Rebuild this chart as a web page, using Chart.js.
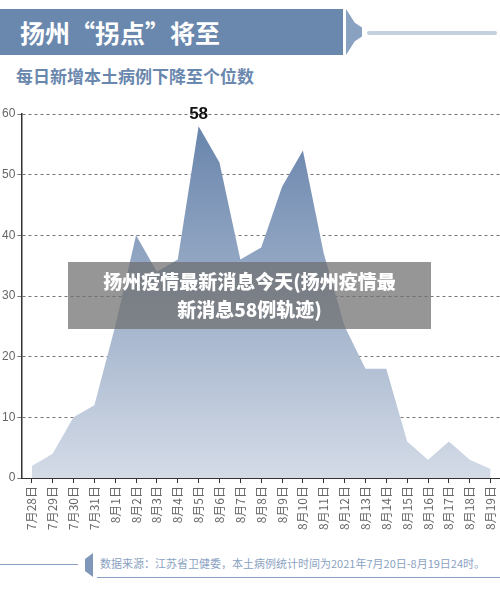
<!DOCTYPE html>
<html>
<head>
<meta charset="utf-8">
<script src="https://cdn.jsdelivr.net/npm/chart.js@4/dist/chart.umd.min.js"></script>
<style>
  body { margin: 0; width: 500px; height: 591px; background: #fff; position: relative; overflow: hidden; font-family: "Noto Sans CJK SC", sans-serif; }
  .abs { position: absolute; }
  #head { left: 0; top: 9px; width: 343px; height: 46px; background: #6a88ae; color: #fff; font-size: 25px; font-weight: bold; line-height: 46px; padding-left: 20px; box-sizing: border-box; }
  #arrow { left: 346px; top: 9px; width: 16px; height: 46px; background: #8aa2c2; clip-path: polygon(0 0, 55% 30%, 100% 40%, 100% 60%, 55% 70%, 0 100%); }
  #hline { left: 367px; top: 31px; width: 130px; height: 4px; background: #c5d0df; border-radius: 2px; }
  #sub { left: 16px; top: 63px; font-size: 17px; font-weight: bold; color: #6a88ae; }
  #wrap { left: 0; top: 100px; width: 508px; height: 433px; }
  #overlay { left: 68px; top: 262px; width: 363px; height: 67px; background: rgba(110,110,110,0.72); color: #fff; font-size: 19px; font-weight: 900; text-align: center; line-height: 28px; padding-top: 5px; box-sizing: border-box; }
  #fline { left: 0; top: 564px; width: 78px; height: 1px; background: #8aa2c2; }
  #ftab { left: 85px; top: 553px; width: 8px; height: 24px; background: #7f97b8; clip-path: polygon(0 25%, 100% 0, 100% 100%, 0 75%); }
  #ftext { left: 100px; top: 555px; font-size: 11px; color: #8aa2c2; }
  #fund { left: 97px; top: 577px; width: 403px; height: 1px; background: #8aa2c2; }
</style>
</head>
<body>
<div id="head" class="abs">扬州“拐点”将至</div>
<div id="arrow" class="abs"></div>
<div id="hline" class="abs"></div>
<div id="sub" class="abs">每日新增本土病例下降至个位数</div>
<div id="wrap" class="abs"><canvas id="chart"></canvas></div>
<div id="overlay" class="abs">扬州疫情最新消息今天(扬州疫情最<br>新消息58例轨迹)</div>
<div id="fline" class="abs"></div>
<div id="ftab" class="abs"></div>
<div id="ftext" class="abs">数据来源：江苏省卫健委，本土病例统计时间为2021年7月20日-8月19日24时。</div>
<div id="fund" class="abs"></div>
<script>
// daily new local cases
const dates = ['7月28日', '7月29日', '7月30日', '7月31日', '8月1日', '8月2日', '8月3日', '8月4日', '8月5日', '8月6日', '8月7日', '8月8日',
  '8月9日', '8月10日', '8月11日', '8月12日', '8月13日', '8月14日', '8月15日', '8月16日', '8月17日', '8月18日', '8月19日'];
const cases = [2, 4, 10, 12, 25, 40, 34, 36, 58, 52, 36, 38, 48, 54, 37, 25, 18, 18, 6, 3, 6, 3, 1.5];
const yTicks = [0, 10, 20, 30, 40, 50, 60];

// label on the peak
const peakLabel = {
    id: 'peakLabel',
    afterDatasetsDraw(chart) {
        const meta = chart.getDatasetMeta(0);
        const i = cases.indexOf(Math.max(...cases));
        const pt = meta.data[i];
        const ctx = chart.ctx;
        ctx.save();
        ctx.font = 'bold 17px "Liberation Sans", Arial';
        ctx.fillStyle = '#111';
        ctx.textAlign = 'center';
        ctx.textBaseline = 'bottom';
        ctx.fillText(cases[i], pt.x, pt.y - 3);
        ctx.restore();
    }
};

new Chart(document.getElementById('chart'), {
    type: 'line',
    data: {
        labels: dates,
        datasets: [{
            data: cases,
            fill: 'origin',
            borderWidth: 0,
            pointRadius: 0,
            tension: 0,
            backgroundColor: function(context) {
                const area = context.chart.chartArea;
                if (!area) return '#8aa2c2';
                const g = context.chart.ctx.createLinearGradient(0, area.top, 0, area.bottom);
                g.addColorStop(0, '#6582aa');
                g.addColorStop(1, '#d4dbe7');
                return g;
            }
        }]
    },
    options: {
        responsive: true,
        maintainAspectRatio: false,
        animation: false,
        layout: { padding: { top: 14, right: 0, left: 0 } },
        plugins: { legend: { display: false }, tooltip: { enabled: false } },
        scales: {
            x: {
                offset: true,
                grid: { display: true, drawOnChartArea: false, color: '#333', tickLength: 5, offset: false },
                border: { color: '#333', width: 1 },
                ticks: {
                    color: '#666',
                    font: { size: 12, family: '"Noto Sans CJK SC"' },
                    minRotation: 90,
                    maxRotation: 90,
                    autoSkip: false
                }
            },
            y: {
                min: 0,
                max: 60,
                afterBuildTicks: axis => { axis.ticks = yTicks.map(v => ({ value: v })); },
                grid: { color: '#777', drawTicks: true, tickLength: 4 },
                border: { color: '#333', width: 1.5, dash: [3, 3] },
                ticks: { color: '#666', font: { size: 12, family: '"Liberation Sans"' }, padding: 2 }
            }
        }
    },
    plugins: [peakLabel]
});
</script>
</body>
</html>
